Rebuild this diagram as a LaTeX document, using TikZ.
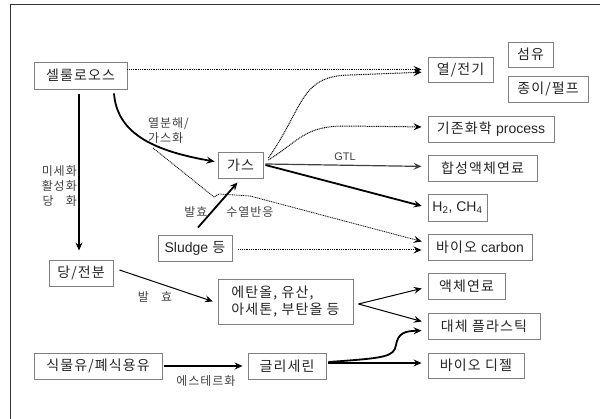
\documentclass[tikz,border=0pt]{standalone}
\usepackage{fontspec}
\setmainfont{Liberation Sans}
\newfontfamily\kr[LetterSpace=8]{Noto Sans CJK KR}
\usetikzlibrary{arrows.meta,calc}
\tikzset{
  box/.style={draw=black!50, line width=0.9pt, fill=white, inner sep=0pt, text=black!85, font=\fontsize{14}{17}\selectfont\kr},
  lbl/.style={inner sep=0pt, text=black!75, font=\fontsize{12}{15}\selectfont\kr},
  tip/.style={-{Stealth[length=8pt,width=7pt,inset=3pt]}},
  thickarrow/.style={tip, line width=1.8pt},
  thinarrow/.style={tip, line width=1pt},
  dotarrow/.style={tip, line width=1pt, dash pattern=on 1pt off 0.8pt},
}
\begin{document}
\begin{tikzpicture}[x=1pt,y=-1pt]
\useasboundingbox (0,0) rectangle (600,419);
\draw[line width=1pt, black!80] (10,419) -- (10,4.5) -- (600,4.5);
% nodes
\node[box, minimum width=93pt, minimum height=27pt] (cell) at (80.5,75.5) {셀룰로오스};
\node[box, minimum width=65pt, minimum height=25pt] (yeol) at (460.5,69.5) {열/전기};
\node[box, minimum width=45pt, minimum height=25pt] (seom) at (530.5,54.5) {섬유};
\node[box, minimum width=80pt, minimum height=26pt] (jongi) at (548,89) {종이/펄프};
\node[box, minimum width=126pt, minimum height=26pt] (gijon) at (491,129) {기존화학 {\rmfamily process}};
\node[box, minimum width=109pt, minimum height=26pt] (hap) at (482.5,168) {합성액체연료};
\node[box, minimum width=59pt, minimum height=27pt] (h2) at (457.5,207.5) {\rmfamily H\textsubscript{2}, CH\textsubscript{4}};
\node[box, minimum width=104pt, minimum height=26pt] (bioc) at (480,247) {바이오 {\rmfamily carbon}};
\node[box, minimum width=77pt, minimum height=26pt] (aek) at (466.5,286) {액체연료};
\node[box, minimum width=112pt, minimum height=26pt] (daeche) at (484,326) {대체 플라스틱};
\node[box, minimum width=96pt, minimum height=25pt] (diesel) at (476,365.5) {바이오 디젤};
\node[box, minimum width=45pt, minimum height=26pt] (gas) at (240.5,165) {가스};
\node[box, minimum width=74pt, minimum height=26pt] (sludge) at (195,248) {{\rmfamily Sludge} 등};
\node[box, minimum width=64pt, minimum height=26pt] (dang) at (81,273) {당/전분};
\node[box, minimum width=135pt, minimum height=45pt, align=left] (eth) at (285.5,301.5) {에탄올, 유산,\\아세톤, 부탄올 등};
\node[box, minimum width=128pt, minimum height=26pt] (sik) at (98,366) {식물유/폐식용유};
\node[box, minimum width=78pt, minimum height=26pt] (gly) at (287,366) {글리세린};
% connectors
\draw[dotarrow, shorten >=6pt] (cell.east |- yeol.west) -- (yeol.west);
\draw[thickarrow, shorten <=5pt, shorten >=9pt] ([xshift=-1.5pt]cell.south) -- ([xshift=-1.5pt]cell.south |- dang.north);
\node[lbl, align=right, anchor=north east] (misc) at (77,165) {미세화\\활성화\\당\quad 화};
\draw[thickarrow, shorten >=3pt] ($(cell.south)+(33.5,4)$) .. controls +(3,37) and +(-70,-12) .. ($(gas.west)+(0,-3)$);
\node[lbl, align=left, anchor=north west] (yeolbun) at (148,117) {열분해/\\가스화};
\coordinate (split) at (153,148);
\draw[dotarrow, line width=0.8pt, shorten >=6pt] (split) -- (214,197) -- (219,194) -- (250,196) -- ($(bioc.west)+(0,-4)$);
\draw[dotarrow, shorten >=6pt] ($(gas.east)+(5,-7)$) .. controls (305,105) and (300,76) .. (350,75) -- ($(yeol.west)+(0,2.5)$);
\draw[dotarrow, shorten >=6pt] ($(gas.east)+(5,-5)$) .. controls (300,140) and (305,126) .. (345,126) -- ($(gijon.west)+(0,-2)$);
\draw[thinarrow, line width=1.2pt, black!75, shorten >=6pt] ($(gas.east)+(2,-1)$) -- ($(hap.west)+(0,-1.5)$);
\node[lbl, font=\fontsize{11}{13}\selectfont\rmfamily] (gtl) at (345,157) {GTL};
\draw[thickarrow, shorten >=6pt] ($(gas.east)+(2,0)$) -- (h2.west);
\draw[thickarrow, shorten >=0pt] ($(sludge.north)+(3,-7)$) -- ($(gas.south)+(-3,4)$);
\node[lbl] (balhyo1) at (196,212) {발효};
\node[lbl] (suyeol) at (250,212) {수열반응};
\draw[dotarrow, shorten >=6pt] ($(sludge.east)+(6,2)$) -- ($(bioc.west)+(0,3)$);
\draw[thinarrow, shorten >=5pt] ($(dang.east)+(6,-3)$) -- ($(eth.west)+(0,1.5)$);
\node[lbl] (balhyo2) at (155,297) {발\quad 효};
\draw[thinarrow, shorten >=6pt] ($(eth.east)+(5,2.5)$) -- ($(aek.west)+(0,1)$);
\draw[thinarrow, shorten >=6pt] ($(eth.east)+(5,2.5)$) -- ($(daeche.west)+(0,-3)$);
\draw[thickarrow, shorten <=2pt, shorten >=5pt] (sik.east) -- (gly.west);
\node[lbl] (ester) at (206,381) {에스테르화};
\draw[thickarrow, shorten <=2pt, shorten >=6pt] ($(gly.east)+(0,-3)$) -- ($(diesel.west)+(0,-2.5)$);
\draw[thickarrow, shorten >=6pt] ($(gly.east)+(2,-4)$) .. controls (385,358) and (394,357) .. (396,345) .. controls (398,333) and (405,331) .. ($(daeche.west)+(0,4.5)$);
\end{tikzpicture}
\end{document}
